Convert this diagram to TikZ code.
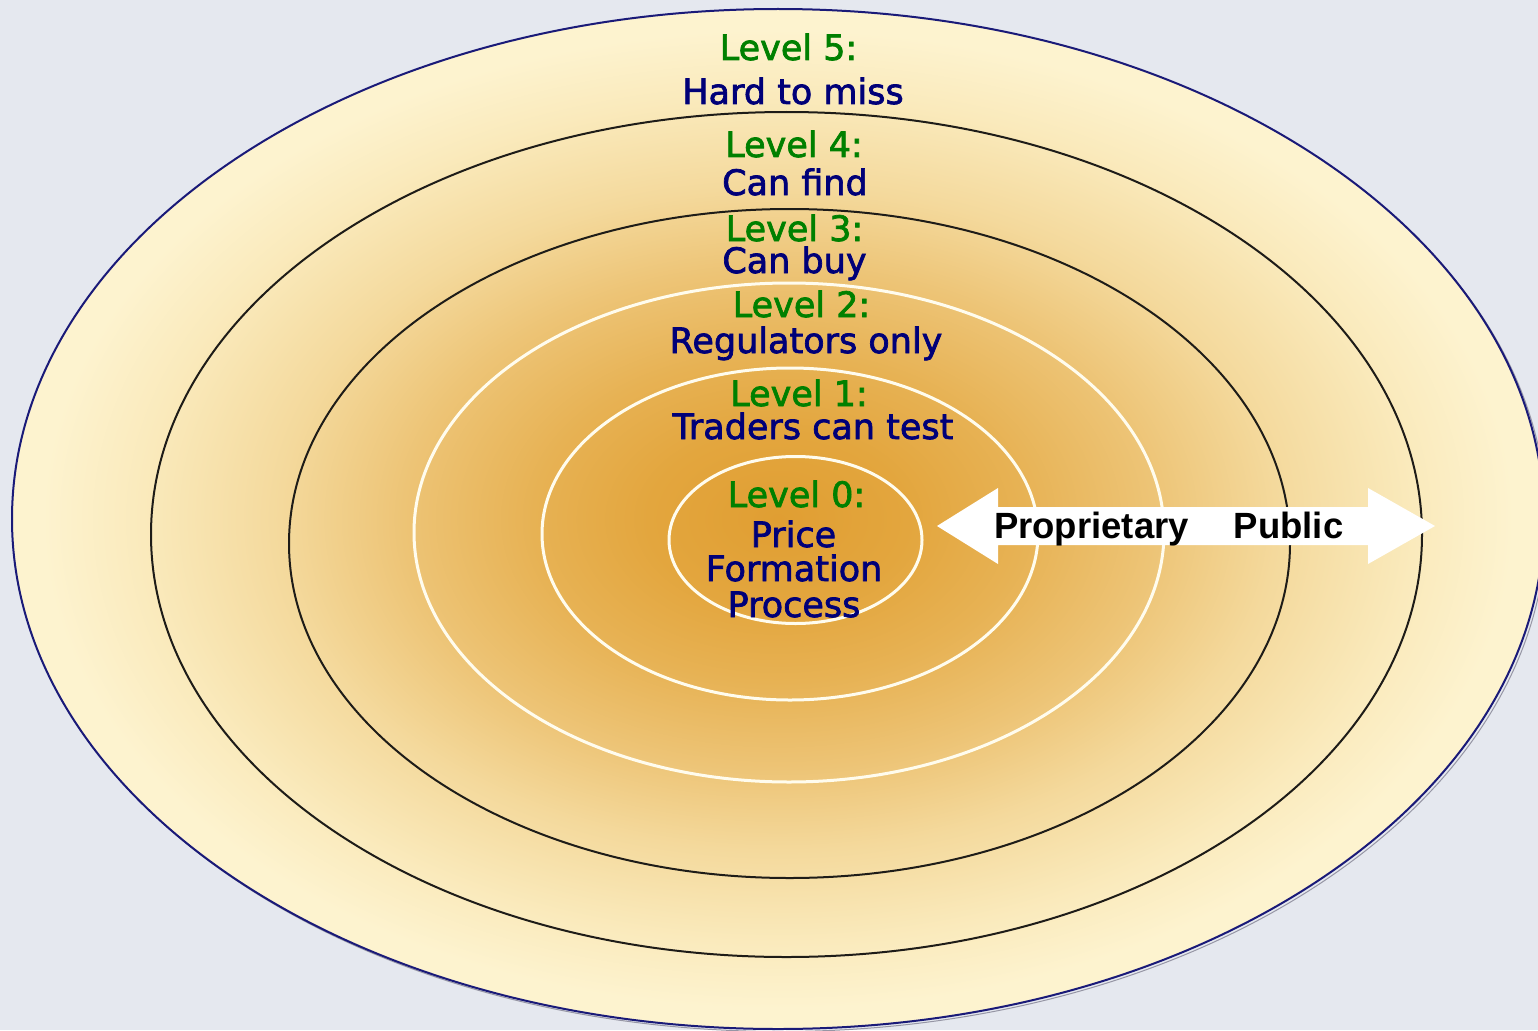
\documentclass[tikz,border=0pt]{standalone}
\usepackage{fontspec}
\setmainfont{DejaVu Sans}[FakeBold=2]
\newfontfamily\arrowfont{Liberation Sans}

\definecolor{bgcol}{RGB}{229,232,239}
\definecolor{rimblue}{RGB}{26,26,120}
\definecolor{rimshadow}{RGB}{150,150,165}
\definecolor{ringblack}{RGB}{30,28,24}
\definecolor{ringwhite}{RGB}{255,252,238}
\definecolor{lvlgreen}{RGB}{0,128,0}
\definecolor{lvlnavy}{RGB}{0,0,120}
% warm radial fill, from the core out to the rim (rim sits at 25bp)
\definecolor{sh0}{RGB}{224,158,50}
\definecolor{sh1}{RGB}{227,166,62}
\definecolor{sh2}{RGB}{231,178,84}
\definecolor{sh3}{RGB}{237,196,118}
\definecolor{sh4}{RGB}{244,217,156}
\definecolor{sh5}{RGB}{250,234,188}
\definecolor{sh6}{RGB}{253,243,207}
\pgfdeclareradialshading{levels}{\pgfpoint{0bp}{0bp}}{%
  color(0bp)=(sh0); color(4.25bp)=(sh1); color(8bp)=(sh2);
  color(12.25bp)=(sh3); color(16.25bp)=(sh4); color(20.75bp)=(sh5);
  color(24bp)=(sh6); color(50bp)=(sh6)}

\begin{document}
\begin{tikzpicture}[x=1pt,y=-1pt,
  blackring/.style={draw=ringblack, line width=2pt},
  whitering/.style={draw=ringwhite, line width=3pt},
  lvl/.style={font=\fontsize{35}{42}\selectfont, text=lvlgreen, anchor=base, inner sep=0pt, text depth=0pt},
  desc/.style={font=\fontsize{35}{42}\selectfont, text=lvlnavy, anchor=base, inner sep=0pt},
  dirlabel/.style={font=\arrowfont\bfseries\fontsize{36.5}{42}\selectfont, text=black, anchor=base, inner sep=0pt}]

% page background
\fill[bgcol] (0,0) rectangle (1538,1030);
\useasboundingbox (0,0) rectangle (1538,1030);

% outer level and its faint shadow
\draw[rimshadow, line width=1pt] (780.5,521.5) ellipse [x radius=766pt, y radius=510pt];
\shade[shading=levels, draw=rimblue, line width=2pt] (778,519) ellipse [x radius=766pt, y radius=510pt];

% level boundaries
\draw[blackring] (786.5,534.5) ellipse [x radius=635.5pt, y radius=422.5pt];
\draw[blackring] (789.5,543.5) ellipse [x radius=500.5pt, y radius=334.5pt];
\draw[whitering] (789,532.5) ellipse [x radius=375pt, y radius=249.5pt];
\draw[whitering] (790,534) ellipse [x radius=248pt, y radius=166pt];
\draw[whitering] (795.5,540) ellipse [x radius=126.5pt, y radius=83.5pt];

% level captions
\node[lvl]  (lvl5) at (788.5,60)  {Level 5:};
\node[desc] (txt5) at (793,104)   {Hard to miss};
\node[lvl]  (lvl4) at (794,157)   {Level 4:};
\node[desc] (txt4) at (795,195)   {Can find};
\node[lvl]  (lvl3) at (794.5,241) {Level 3:};
\node[desc] (txt3) at (794.5,273) {Can buy};
\node[lvl]  (lvl2) at (801.5,317) {Level 2:};
\node[desc] (txt2) at (806,353)   {Regulators only};
\node[lvl]  (lvl1) at (799,406)   {Level 1:};
\node[desc] (txt1) at (813,439)   {Traders can test};
\node[lvl]  (lvl0) at (796.5,507) {Level 0:};
\node[desc] (txt0a) at (793.5,547) {Price};
\node[desc] (txt0b) at (794,581)   {Formation};
\node[desc] (txt0c) at (794,617)   {Process};

% two-headed direction arrow
\coordinate (tipL) at (937,526);
\coordinate (tipR) at (1435,526);
\fill[white] (tipL) -- (998,488) -- (998,507) -- (1368,507) -- (1368,488)
  -- (tipR) -- (1368,564) -- (1368,545) -- (998,545) -- (998,564) -- cycle;
\node[dirlabel] (prop) at (1091.5,538) {Proprietary};
\node[dirlabel] (publ) at (1288.5,538) {Public};
\end{tikzpicture}
\end{document}
